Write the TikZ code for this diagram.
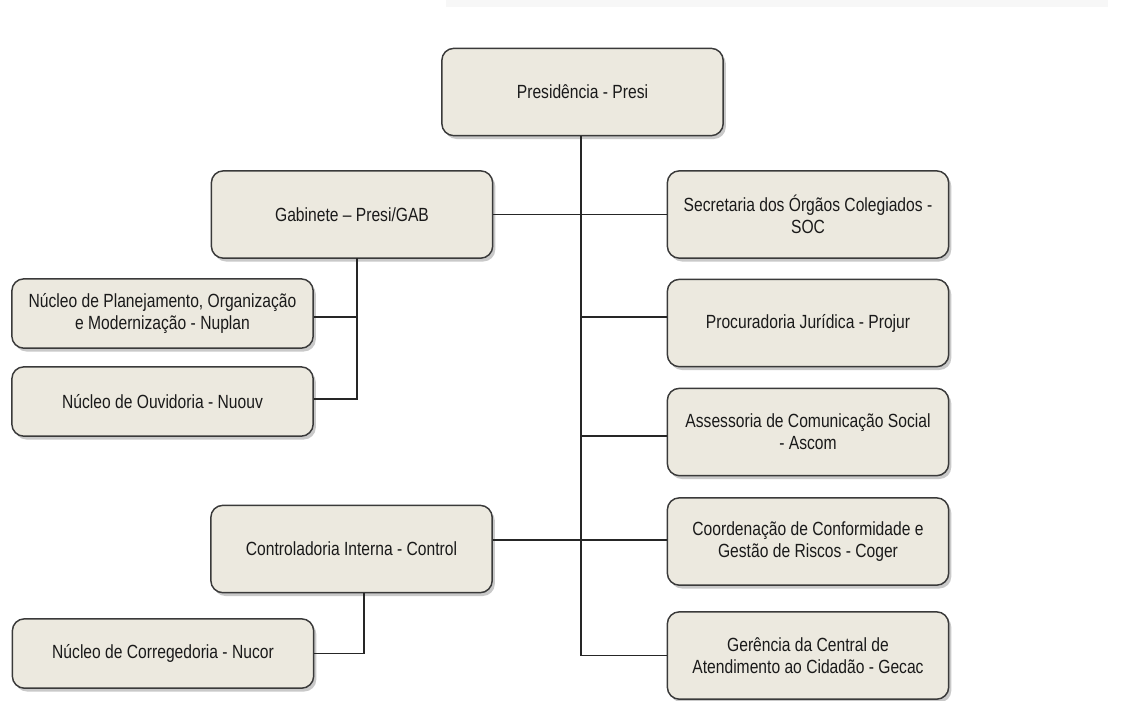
\documentclass[tikz,border=0pt]{standalone}
\usepackage{fontspec}
\setmainfont{Liberation Sans}[FakeStretch=0.82]
\usetikzlibrary{shadows,calc}
\definecolor{boxfill}{HTML}{ECE9DF}
\definecolor{boxline}{HTML}{3A3A3A}
\definecolor{txt}{HTML}{1A1A1A}
\definecolor{band}{HTML}{F7F7F7}
\tikzset{
  unit/.style={draw=boxline, line width=1.1pt, fill=boxfill, rounded corners=9pt,
    align=center, text=txt, inner sep=2pt,
    font=\fontsize{14.3}{16.5}\selectfont,
    drop shadow={shadow xshift=2pt, shadow yshift=-2.5pt, opacity=0.3, fill=black!70}},
  big/.style={unit, minimum width=211pt, minimum height=65.5pt},
  small/.style={unit, minimum width=226pt, minimum height=52pt},
  link/.style={draw=black!85, line width=1pt}
}
\begin{document}
\begin{tikzpicture}[x=0.75pt, y=-0.75pt]
\useasboundingbox (0,0) rectangle (1123,700);
\fill[band] (446,0) rectangle (1108,7);
\node[big] (presi) at (582.5,92) {Presidência - Presi};
\node[big] (gab) at (352,214.5) {Gabinete -- Presi/GAB};
\node[small] (nuplan) at (162.5,313.5) {Núcleo de Planejamento, Organização\\e Modernização - Nuplan};
\node[small] (nuouv) at (162.5,401.5) {Núcleo de Ouvidoria - Nuouv};
\node[big] (control) at (351.5,549) {Controladoria Interna - Control};
\node[small] (nucor) at (163,653.5) {Núcleo de Corregedoria - Nucor};
\node[big] (soc) at (808,214.5) {Secretaria dos Órgãos Colegiados -\\SOC};
\node[big] (projur) at (808,323) {Procuradoria Jurídica - Projur};
\node[big] (ascom) at (808,432) {Assessoria de Comunicação Social\\- Ascom};
\node[big] (coger) at (808,541.5) {Coordenação de Conformidade e\\Gestão de Riscos - Coger};
\node[big] (gecac) at (808,655.5) {Gerência da Central de\\Atendimento ao Cidadão - Gecac};
\coordinate (gv) at (357,258);
\coordinate (cv) at (364,593);
\coordinate (tr) at (581,136);
\coordinate (ouvj) at ($(nuouv.east)+(0,-2.5)$);
\draw[link] (tr) -- (tr |- gecac.west) -- (gecac.west);
\draw[link] (gab.east) -- (soc.west);
\draw[link] ($(tr |- projur.west)+(0,-6)$) -- ($(projur.west)+(0,-6)$);
\draw[link] ($(tr |- ascom.west)+(0,4)$) -- ($(ascom.west)+(0,4)$);
\draw[link] ($(control.east |- coger.west)+(0,-1.5)$) -- ($(coger.west)+(0,-1.5)$);
\draw[link] (gv) |- (ouvj);
\draw[link] ($(gv |- nuplan.east)+(0,3.5)$) -- ($(nuplan.east)+(0,3.5)$);
\draw[link] (cv) |- (nucor.east);
\end{tikzpicture}
\end{document}
